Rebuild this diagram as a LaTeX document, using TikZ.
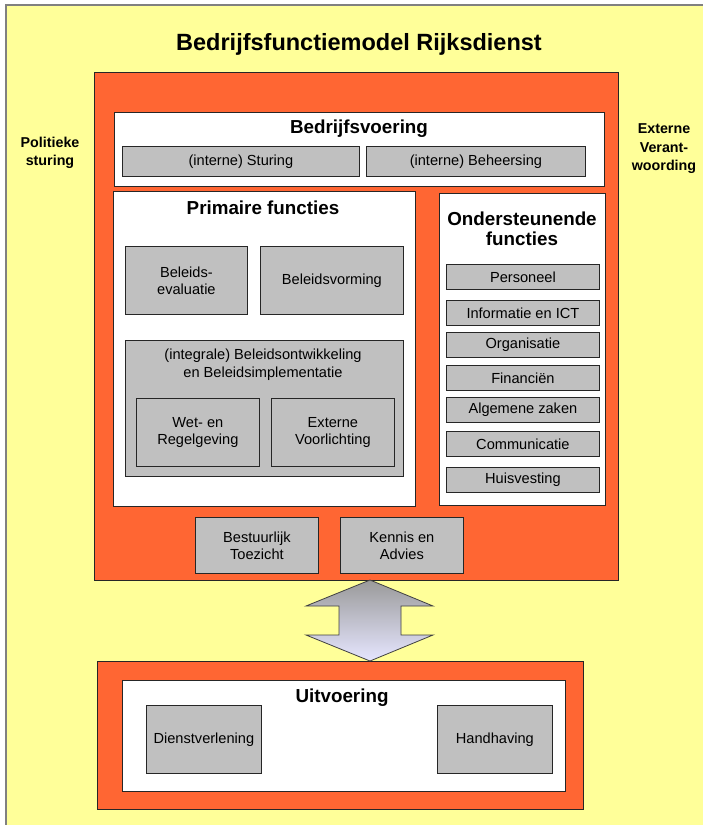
\documentclass[tikz,border=0pt]{standalone}
\usepackage{fontspec}
\setmainfont{Liberation Sans}
\usetikzlibrary{shadows}
\definecolor{bgyellow}{HTML}{FFFF99}
\definecolor{orangered}{HTML}{FF6633}
\definecolor{boxgray}{HTML}{C0C0C0}
\definecolor{framegray}{HTML}{808080}
\definecolor{arrowtop}{HTML}{9A9A9A}
\definecolor{arrowbot}{HTML}{E6E6FF}
\tikzset{
  base/.style={draw=black!85, line width=0.8pt, anchor=north west, inner sep=0pt, align=center,
    drop shadow={shadow xshift=1pt, shadow yshift=-1pt, fill=black, opacity=0.35}},
  obox/.style={base, fill=orangered},
  wbox/.style={base, fill=white},
  gbox/.style={base, fill=boxgray, font=\fontsize{14.6}{17}\selectfont},
  head/.style={font=\bfseries\fontsize{18.8}{20}\selectfont, align=center, inner sep=0pt},
  side/.style={font=\bfseries\fontsize{14.3}{18.5}\selectfont, align=center, inner sep=0pt},
}
\begin{document}
\begin{tikzpicture}[x=1pt,y=-1pt]
\useasboundingbox (0,0) rectangle (702,825);
\fill[white] (0,0) rectangle (702,825);
\draw[framegray, fill=bgyellow, line width=1.2pt] (6,5) rectangle (712,835);
\node[font=\bfseries\fontsize{23.5}{26}\selectfont, inner sep=0pt] (title) at (359,44) {Bedrijfsfunctiemodel Rijksdienst};
\node[side] (pol) at (50,153) {Politieke\\sturing};
\node[side] (ext) at (664,149) {Externe\\Verant-\\woording};
% top orange block
\node[obox, minimum width=524pt, minimum height=508pt] (outer) at (94,72) {};
\node[wbox, minimum width=490pt, minimum height=74pt] (bv) at (114,112) {};
\node[head] (bvt) at (359,129) {Bedrijfsvoering};
\node[gbox, minimum width=237pt, minimum height=30pt] (stu) at (122,146) {(interne) Sturing};
\node[gbox, minimum width=219pt, minimum height=30pt] (beh) at (366,146) {(interne) Beheersing};
% primaire functies
\node[wbox, minimum width=302pt, minimum height=315pt] (prim) at (113,191) {};
\node[head] (primt) at (263,208) {Primaire functies};
\node[gbox, minimum width=122pt, minimum height=68pt] (eval) at (125,246) {Beleids-\\evaluatie};
\node[gbox, minimum width=143pt, minimum height=68pt] (vorm) at (260,246) {Beleidsvorming};
\node[gbox, minimum width=278pt, minimum height=136pt] (integ) at (125,340) {};
\node[font=\fontsize{14.6}{17.5}\selectfont, align=center, inner sep=0pt] (integt) at (263,364.5) {(integrale) Beleidsontwikkeling\\en Beleidsimplementatie};
\node[gbox, minimum width=123pt, minimum height=68pt] (wet) at (136,398) {Wet- en\\Regelgeving};
\node[gbox, minimum width=123pt, minimum height=68pt] (voor) at (271,398) {Externe\\Voorlichting};
% ondersteunende functies
\node[wbox, minimum width=166pt, minimum height=312pt] (ond) at (439,193) {};
\node[head] (ondt) at (522,229) {Ondersteunende\\functies};
\foreach \nm/\yy/\tx in {pers/264/Personeel, info/300/Informatie en ICT, org/332/Organisatie, fin/365/Financiën, alg/397/Algemene zaken, com/431/Communicatie, huis/467/Huisvesting}
  \node[gbox, minimum width=153pt, minimum height=25pt] (\nm) at (446,\yy) {\tx};
% bottom of top block
\node[gbox, minimum width=123pt, minimum height=56pt] (toez) at (195,517) {Bestuurlijk\\Toezicht};
\node[gbox, minimum width=123pt, minimum height=56pt] (adv) at (340,517) {Kennis en\\Advies};
% uitvoering
\node[obox, minimum width=486pt, minimum height=148pt] (uout) at (97,661) {};
\node[wbox, minimum width=443pt, minimum height=111pt] (uin) at (122,680) {};
\node[head] (uitt) at (342,698) {Uitvoering};
\node[gbox, minimum width=115pt, minimum height=68pt] (dienst) at (146,705) {Dienstverlening};
\node[gbox, minimum width=115pt, minimum height=68pt] (handh) at (437,705) {Handhaving};
% double arrow
\draw[black!75, line width=0.8pt, top color=arrowtop, bottom color=arrowbot]
  (370,580) -- (433,606) -- (401,606) -- (401,635) -- (433,635) -- (370,661)
  -- (306,635) -- (339,635) -- (339,606) -- (306,606) -- cycle;
\end{tikzpicture}
\end{document}
